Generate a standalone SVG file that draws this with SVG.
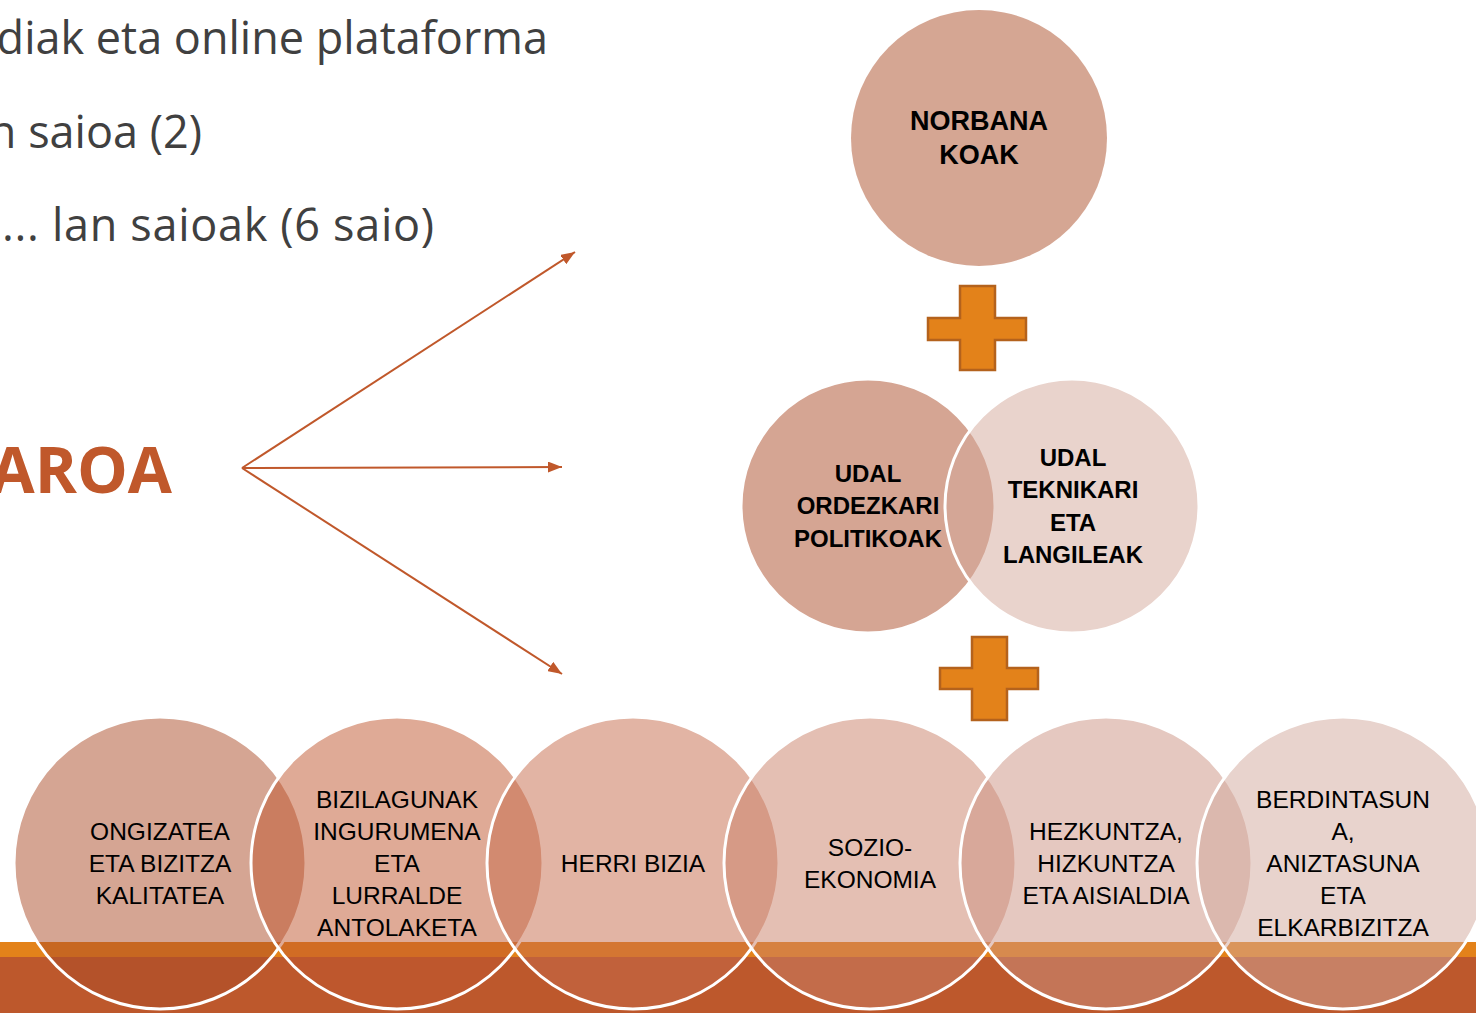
<svg xmlns="http://www.w3.org/2000/svg" width="1476" height="1013" viewBox="0 0 1476 1013">
<defs>
<style>
.bg{fill:#ffffff}
.body{font-family:"Open Sans","Liberation Sans",sans-serif;font-size:45px;fill:#404040}
.title{font-family:"Open Sans","Liberation Sans",sans-serif;font-size:64px;font-weight:bold;fill:#C0582B}
.conn{stroke:#C0582B;stroke-width:2;fill:none}
.lblb{font-family:"Liberation Sans",Arial,sans-serif;font-size:24px;font-weight:bold;fill:#000;text-anchor:middle}
.lbl{font-family:"Liberation Sans",Arial,sans-serif;font-size:24.5px;fill:#000;text-anchor:middle}
.venn{stroke:#ffffff;stroke-width:3;fill-opacity:0.5}
.plus{fill:#E3821A;stroke:#B4621C;stroke-width:2.5}
</style>
<marker id="ah" viewBox="0 0 14 11" refX="14" refY="5.5" markerWidth="14" markerHeight="11" markerUnits="userSpaceOnUse" orient="auto">
<path d="M0,0 L14,5.5 L0,11 z" fill="#C0582B"/>
</marker>
</defs>
<rect class="bg" x="0" y="0" width="1476" height="1013"/>

<g id="footer">
<rect x="0" y="942" width="1476" height="15" fill="#E3821A"/>
<rect x="0" y="957" width="1476" height="56" fill="#BD582C"/>
</g>

<g id="body-text">
<text class="body" x="548" y="54" text-anchor="end">diak eta online plataforma</text>
<text class="body" x="202" y="148" text-anchor="end">n saioa (2)</text>
<text class="body" x="2" y="241" textLength="432" lengthAdjust="spacing">... lan saioak (6 saio)</text>
<text class="title" x="172" y="493" text-anchor="end">AROA</text>
</g>

<g id="connectors">
<line class="conn" x1="242" y1="468" x2="575" y2="252" marker-end="url(#ah)"/>
<line class="conn" x1="242" y1="468" x2="562" y2="467" marker-end="url(#ah)"/>
<line class="conn" x1="242" y1="468" x2="562" y2="674" marker-end="url(#ah)"/>
</g>

<g id="node-norbanakoak">
<circle cx="979" cy="138" r="128" fill="#D5A693"/>
<text class="lblb" x="979" y="130" style="font-size:27px">NORBANA</text>
<text class="lblb" x="979" y="164" style="font-size:27px">KOAK</text>
</g>

<g id="plus-1">
<path class="plus" d="M960,286 H995 V318 H1026 V340 H995 V370 H960 V340 H928 V318 H960 Z"/>
</g>

<g id="node-ordezkari">
<circle class="venn" cx="868" cy="506" r="127" fill="#AB4C28"/>
<text class="lblb" x="868" y="482">UDAL</text>
<text class="lblb" x="868" y="514">ORDEZKARI</text>
<text class="lblb" x="868" y="547">POLITIKOAK</text>
</g>

<g id="node-teknikari">
<circle class="venn" cx="1072" cy="506" r="127" fill="#D3A799"/>
<text class="lblb" x="1073" y="466">UDAL</text>
<text class="lblb" x="1073" y="498">TEKNIKARI</text>
<text class="lblb" x="1073" y="531">ETA</text>
<text class="lblb" x="1073" y="563">LANGILEAK</text>
</g>

<g id="plus-2">
<path class="plus" d="M972,637 H1007 V668 H1038 V689 H1007 V720 H972 V689 H940 V668 H972 Z"/>
</g>

<g id="node-ongizatea">
<circle class="venn" cx="160" cy="863" r="146" fill="#AB4C28"/>
<text class="lbl" x="160" y="840">ONGIZATEA</text>
<text class="lbl" x="160" y="872">ETA BIZITZA</text>
<text class="lbl" x="160" y="904">KALITATEA</text>
</g>

<g id="node-bizilagunak">
<circle class="venn" cx="397" cy="863" r="146" fill="#BF552D"/>
<text class="lbl" x="397" y="808">BIZILAGUNAK</text>
<text class="lbl" x="397" y="840">INGURUMENA</text>
<text class="lbl" x="397" y="872">ETA</text>
<text class="lbl" x="397" y="904">LURRALDE</text>
<text class="lbl" x="397" y="936">ANTOLAKETA</text>
</g>

<g id="node-herri-bizia">
<circle class="venn" cx="633" cy="863" r="146" fill="#C56949"/>
<text class="lbl" x="633" y="872">HERRI BIZIA</text>
</g>

<g id="node-sozio-ekonomia">
<circle class="venn" cx="870" cy="863" r="146" fill="#C97F67"/>
<text class="lbl" x="870" y="856">SOZIO-</text>
<text class="lbl" x="870" y="888">EKONOMIA</text>
</g>

<g id="node-hezkuntza">
<circle class="venn" cx="1106" cy="863" r="146" fill="#CB9181"/>
<text class="lbl" x="1106" y="840">HEZKUNTZA,</text>
<text class="lbl" x="1106" y="872">HIZKUNTZA</text>
<text class="lbl" x="1106" y="904">ETA AISIALDIA</text>
</g>

<g id="node-berdintasuna">
<circle class="venn" cx="1343" cy="863" r="146" fill="#D1A79B"/>
<text class="lbl" x="1343" y="808">BERDINTASUN</text>
<text class="lbl" x="1343" y="840">A,</text>
<text class="lbl" x="1343" y="872">ANIZTASUNA</text>
<text class="lbl" x="1343" y="904">ETA</text>
<text class="lbl" x="1343" y="936">ELKARBIZITZA</text>
</g>
</svg>
